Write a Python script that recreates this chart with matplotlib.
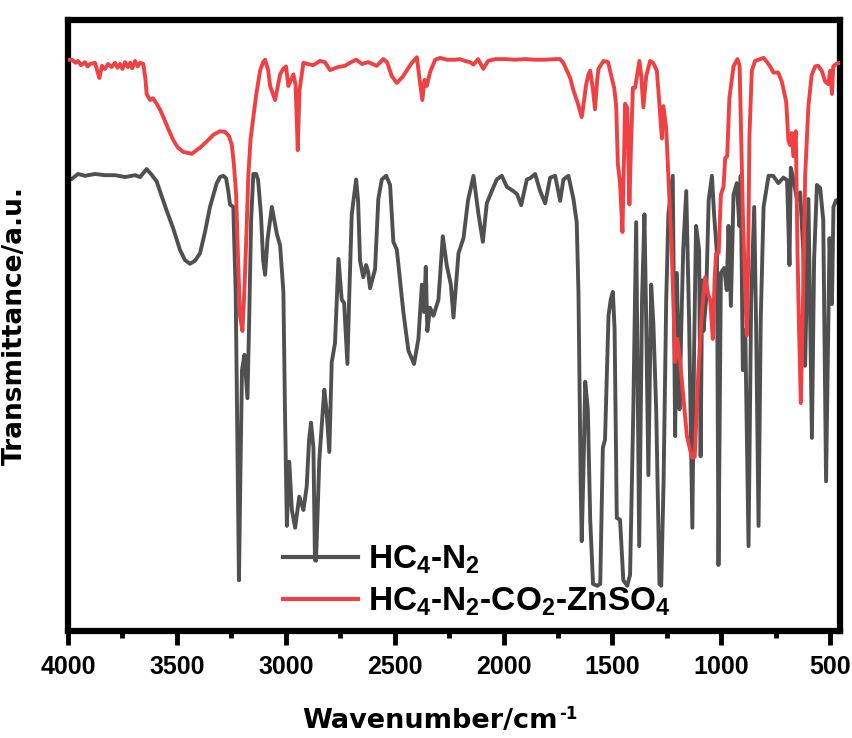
import matplotlib
matplotlib.use("Agg")
import matplotlib.pyplot as plt
from matplotlib.ticker import MultipleLocator

plt.rcParams['font.family'] = ['Liberation Sans', 'DejaVu Sans']
plt.rcParams['font.weight'] = 'bold'
plt.rcParams['mathtext.fontset'] = 'custom'
plt.rcParams['mathtext.rm'] = 'Liberation Sans:bold'
plt.rcParams['mathtext.bf'] = 'Liberation Sans:bold'
plt.rcParams['mathtext.it'] = 'Liberation Sans:bold'
plt.rcParams['mathtext.default'] = 'bf'

# FTIR spectra: wavenumber (cm-1) and transmittance (a.u.)
hc4n2_wn = [4000, 3982, 3954, 3922, 3876, 3830, 3784, 3738, 3692, 3669, 3639, 3619, 3593, 3547,
            3518, 3486, 3463, 3440, 3417, 3394, 3371, 3348, 3317, 3302, 3287, 3274, 3264, 3256,
            3241, 3230, 3222, 3215, 3208, 3201, 3190, 3176, 3169, 3159, 3149, 3136, 3127, 3114,
            3104, 3095, 3084, 3064, 3041, 3026, 3011, 3003, 2995, 2984, 2972, 2957, 2938, 2919,
            2904, 2893, 2884, 2873, 2866, 2861, 2846, 2823, 2813, 2800, 2789, 2774, 2758, 2743,
            2732, 2717, 2708, 2697, 2677, 2668, 2659, 2644, 2631, 2622, 2613, 2590, 2575, 2559,
            2539, 2521, 2506, 2490, 2460, 2437, 2411, 2391, 2375, 2365, 2357, 2350, 2337, 2322,
            2299, 2279, 2261, 2242, 2230, 2207, 2184, 2163, 2138, 2115, 2095, 2077, 2054, 2031,
            2008, 1985, 1955, 1938, 1919, 1893, 1878, 1855, 1832, 1809, 1786, 1763, 1740, 1725,
            1702, 1679, 1664, 1656, 1646, 1641, 1632, 1625, 1613, 1602, 1589, 1570, 1556, 1544,
            1534, 1518, 1508, 1498, 1490, 1480, 1465, 1450, 1432, 1419, 1404, 1391, 1377, 1364,
            1353, 1345, 1335, 1322, 1312, 1299, 1284, 1276, 1265, 1253, 1243, 1223, 1212, 1204,
            1192, 1184, 1175, 1161, 1148, 1133, 1125, 1116, 1102, 1095, 1088, 1082, 1070, 1058,
            1043, 1033, 1020, 1013, 1002, 987, 975, 967, 956, 944, 929, 917, 911, 901, 890, 875,
            863, 849, 840, 829, 819, 806, 783, 762, 738, 715, 698, 687, 681, 670, 652, 638, 624,
            615, 600, 584, 574, 561, 546, 532, 519, 503, 492, 485, 473, 454]
hc4n2_t = [73.8, 74.0, 74.8, 74.5, 74.8, 74.6, 74.6, 74.3, 74.6, 74.3, 75.6, 74.8, 73.6, 68.8,
           66.0, 62.4, 60.7, 60.1, 60.6, 61.8, 65.3, 69.4, 73.3, 74.3, 74.5, 74.1, 72.0, 69.8,
           69.4, 55.5, 29.6, 8.3, 26.4, 42.7, 45.2, 38.1, 49.3, 67.3, 74.8, 74.8, 73.8, 68.2,
           60.7, 58.3, 64.0, 69.4, 65.0, 63.1, 55.5, 34.5, 17.2, 27.7, 19.8, 16.9, 22.0, 19.8,
           23.6, 31.3, 34.1, 30.0, 11.6, 11.5, 28.0, 39.5, 36.2, 29.3, 44.0, 47.1, 60.9, 54.2,
           53.7, 43.7, 55.5, 68.2, 73.9, 70.5, 60.6, 57.9, 59.9, 58.8, 56.1, 59.2, 70.7, 73.9,
           74.5, 73.0, 63.7, 62.4, 52.2, 45.9, 43.7, 47.8, 56.7, 52.2, 59.6, 49.1, 52.9, 51.6,
           54.2, 64.6, 59.9, 56.7, 51.3, 61.8, 64.3, 70.5, 74.5, 68.2, 63.7, 70.0, 72.0, 73.9,
           74.5, 72.7, 72.0, 71.5, 69.7, 73.9, 74.1, 74.8, 72.0, 70.0, 74.2, 74.5, 70.4, 73.9,
           74.5, 70.7, 66.9, 55.5, 24.7, 14.7, 28.0, 40.8, 36.3, 18.2, 7.7, 7.4, 7.7, 30.0,
           31.3, 51.6, 54.2, 55.5, 49.3, 18.5, 18.2, 8.3, 7.4, 9.2, 36.3, 66.9, 13.9, 54.2,
           68.2, 50.9, 25.5, 56.7, 50.3, 36.2, 7.7, 7.4, 24.7, 54.2, 68.2, 74.5, 31.9, 58.6,
           36.3, 49.3, 62.4, 72.0, 50.9, 16.9, 46.0, 66.3, 62.4, 28.6, 57.4, 49.1, 54.2, 70.5,
           74.5, 68.1, 61.8, 10.8, 58.6, 59.4, 55.8, 66.3, 53.2, 71.4, 73.3, 66.3, 74.5, 42.7,
           49.3, 13.9, 54.2, 69.4, 49.3, 17.2, 50.9, 69.4, 74.5, 74.5, 73.3, 74.2, 73.8, 59.9,
           75.8, 74.1, 70.5, 71.8, 62.4, 43.4, 70.7, 31.6, 60.7, 73.0, 72.5, 67.3, 24.5, 64.3,
           53.5, 69.4, 70.5, 69.7]

zn_wn = [4000, 3982, 3965, 3954, 3940, 3922, 3910, 3899, 3876, 3856, 3844, 3830, 3816, 3800,
         3784, 3772, 3761, 3750, 3738, 3725, 3715, 3705, 3692, 3680, 3669, 3654, 3644, 3639,
         3623, 3610, 3593, 3577, 3562, 3541, 3516, 3495, 3470, 3432,
         3394, 3366, 3333, 3302, 3279, 3261, 3248, 3238, 3228, 3219, 3210, 3199, 3192, 3187,
         3180, 3172, 3162, 3149, 3136, 3118, 3104, 3095, 3081, 3072, 3049, 3026, 3012, 2999,
         2988, 2976, 2965, 2955, 2945, 2937, 2919, 2898, 2875, 2856, 2843, 2820, 2797, 2760,
         2728, 2705, 2677, 2650, 2622, 2582, 2552, 2535, 2513, 2490, 2461, 2438, 2421, 2398,
         2388, 2373, 2363, 2353, 2337, 2314, 2291, 2259, 2222, 2200, 2177, 2154, 2138, 2117,
         2093, 2071, 2039, 1993, 1947, 1901, 1855, 1809, 1763, 1740, 1726, 1709, 1694, 1679,
         1656, 1641, 1630, 1621, 1610, 1602, 1589, 1580, 1570, 1564, 1541, 1520, 1503, 1492,
         1483, 1475, 1465, 1454, 1446, 1442, 1432, 1422, 1414, 1406, 1396, 1376, 1368, 1358,
         1345, 1327, 1313, 1296, 1285, 1273, 1266, 1253, 1243, 1227, 1212, 1202, 1189, 1174,
         1158, 1135, 1122, 1105, 1089, 1074, 1060, 1051, 1039, 1031, 1024, 1012, 1002, 990,
         982, 973, 963, 944, 926, 916, 901, 890, 883, 877, 871, 860, 845, 822, 806, 790, 776,
         761, 739, 722, 702, 692, 684, 677, 669, 658, 650, 643, 635, 624, 615, 600, 585, 569,
         555, 539, 523, 509, 500, 492, 486, 473, 454]
zn_t = [93.5, 93.5, 93.0, 93.3, 92.6, 93.1, 92.4, 92.8, 93.0, 90.5, 92.5, 92.0, 92.8, 92.3,
        93.0, 92.2, 92.8, 92.0, 93.1, 92.3, 93.0, 92.1, 93.3, 92.4,
        93.0, 92.8, 90.2, 87.9, 86.9, 87.2, 86.3, 85.3, 84.1, 82.3, 80.3, 79.1, 78.4, 78.1,
        79.1, 80.0, 81.2, 81.8, 81.7, 81.0, 79.6, 76.3, 71.4, 60.7, 51.6, 49.1, 54.2, 58.6,
        65.6, 74.5, 80.4, 84.1, 87.7, 91.7, 93.1, 93.5, 91.8, 89.2, 86.9, 91.1, 92.0, 92.4,
        89.2, 90.2, 91.1, 89.4, 78.7, 88.5, 93.0, 92.8, 92.6, 93.0, 93.3, 93.1, 91.8, 92.3,
        92.5, 93.0, 93.5, 92.8, 93.1, 92.5, 93.6, 93.1, 90.8, 89.7, 90.8, 92.1, 93.0, 93.9,
        91.0, 86.9, 90.2, 89.2, 91.5, 93.5, 93.8, 93.5, 93.5, 93.6, 93.3, 93.1, 92.7, 93.6,
        92.0, 93.3, 93.6, 93.6, 93.5, 93.6, 93.5, 93.5, 93.6, 93.6, 93.0, 91.7, 90.5, 88.5,
        86.0, 84.1, 86.9, 89.4, 91.1, 91.7, 88.5, 85.4, 90.2, 92.0, 93.3, 93.1, 90.5, 88.9,
        86.1, 76.4, 73.3, 65.3, 78.7, 86.3, 85.6, 69.8, 80.4, 88.9, 88.9, 93.3, 91.0, 85.7,
        90.8, 93.3, 93.0, 91.7, 86.6, 80.6, 85.9, 82.2, 74.5, 61.8, 44.0, 47.8, 44.0, 38.2,
        31.9, 28.4, 28.5, 42.7, 52.2, 57.9, 55.0, 54.2, 47.8, 57.4, 61.8, 61.9, 71.4, 72.7,
        77.4, 77.7, 87.2, 92.4, 93.6, 92.5, 68.2, 55.5, 48.4, 59.1, 80.9, 91.7, 93.3, 93.6,
        93.8, 93.1, 92.4, 91.4, 91.4, 89.9, 86.6, 80.3, 79.5, 81.5, 77.7, 81.8, 61.8, 49.3,
        37.3, 55.5, 74.5, 86.0, 91.0, 92.4, 92.5, 91.7, 89.9, 89.5, 91.7, 87.9, 92.4, 92.8,
        93.0]

series_labels = ['HC$_4$-N$_2$', 'HC$_4$-N$_2$-CO$_2$-ZnSO$_4$']
series_colors = ['#505050', '#ef4143']
x_ticks = [4000, 3500, 3000, 2500, 2000, 1500, 1000, 500]

W, H = 852, 738
fig = plt.figure(figsize=(W / 100, H / 100), dpi=100)
ax = fig.add_axes([68 / W, 1 - 631 / H, 772 / W, 611 / H])

ax.plot(hc4n2_wn, hc4n2_t, color=series_colors[0], lw=2.8, label=series_labels[0],
        solid_joinstyle='round', zorder=2)
ax.plot(zn_wn, zn_t, color=series_colors[1], lw=2.8, label=series_labels[1],
        solid_joinstyle='round', zorder=3)

ax.set_xlim(4000, 455)
ax.set_ylim(0, 100)
ax.set_xticks(x_ticks)
ax.set_xticklabels([str(t) for t in x_ticks])
ax.xaxis.set_minor_locator(MultipleLocator(250))
ax.set_yticks([])

for sp in ax.spines.values():
    sp.set_linewidth(4.5)

ax.tick_params(axis='x', which='major', direction='out', length=10, width=3.5,
               pad=7, labelsize=18)
ax.tick_params(axis='x', which='minor', direction='out', length=5, width=3.5)
for lbl in ax.get_xticklabels():
    lbl.set_fontweight('bold')

ax.set_xlabel('Wavenumber/cm', fontsize=19.5, fontweight='bold', family=['DejaVu Sans'])
ax.xaxis.set_label_coords((430 - 68) / 772, (631 - 708) / 611)
ax.set_ylabel('Transmittance/a.u.', fontsize=19, fontweight='bold', family=['DejaVu Sans'])
ax.yaxis.set_label_coords((28 - 68) / 772, 0.5)

leg = ax.legend(loc='center left', bbox_to_anchor=((283 - 68) / 772, (631 - 581) / 611),
                frameon=False, fontsize=24, handlelength=2.25, handletextpad=0.3,
                labelspacing=0.3, borderpad=0, borderaxespad=0)
for line in leg.get_lines():
    line.set_linewidth(3.0)

# superscript "-1" attached to the end of the x-axis label
fig.canvas.draw()
bb = ax.xaxis.label.get_window_extent()
label_px = 19.5 * 100 / 72
baseline = bb.y0 + 0.236 * label_px
fig.text((bb.x1 + 1) / W, (baseline + 9) / H, '-1', fontsize=12, fontweight='bold',
         family=['DejaVu Sans'], ha='left', va='baseline')

fig.savefig('out.png', dpi=100)
